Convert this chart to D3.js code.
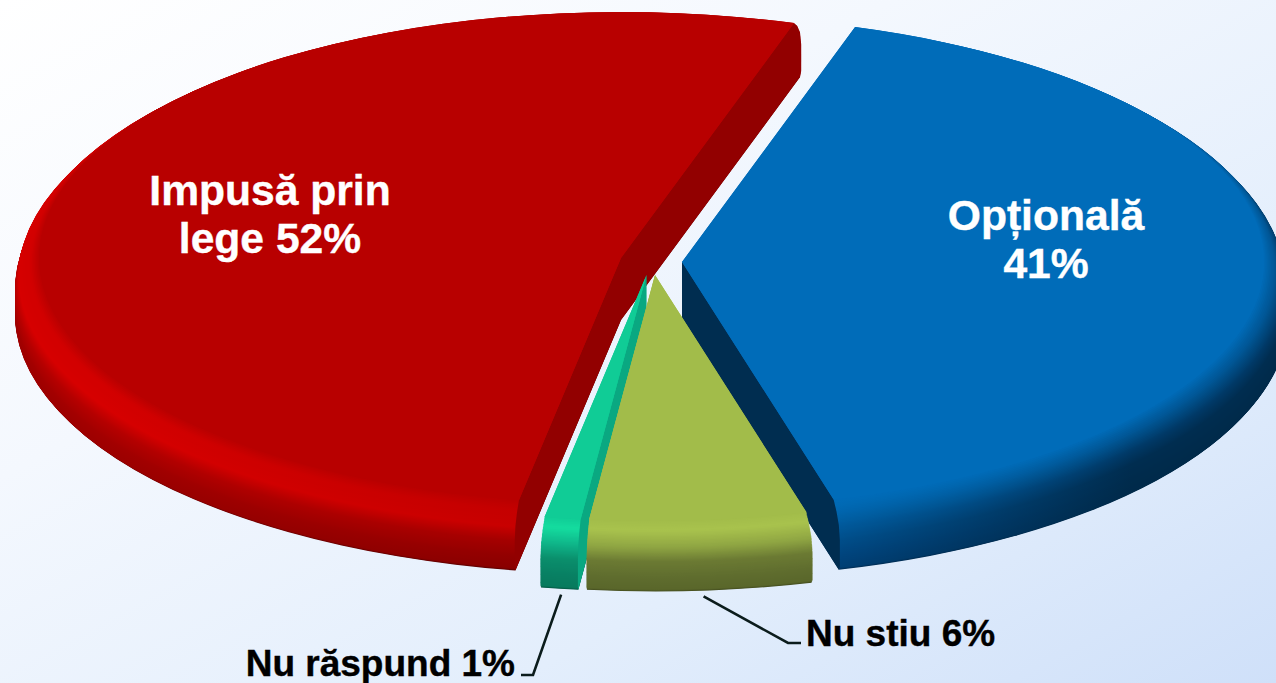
<!DOCTYPE html>
<html>
<head>
<meta charset="utf-8">
<script src="https://cdn.jsdelivr.net/npm/d3@7"></script>
<style>
html,body{margin:0;padding:0;overflow:hidden;background:#fff}
svg{display:block}
text{font-family:"Liberation Sans",Arial,sans-serif;font-weight:700}
</style>
</head>
<body>
<svg id="c" width="1276" height="683"></svg>
<script>
// ---- data ----
const categories = ["Opțională", "Nu stiu", "Nu răspund", "Impusă prin lege"];
const values = [41, 6, 1, 52];

// ---- layout and style ----
const W = 1276, H = 683;
const startDeg = 17.3;
const faceR = 582, maxR = 606, tilt = 0.4227, depth = 62, layers = 64;
const apexX = [682, 655, 646.5, 621];
const apexY = [262, 275, 275, 258];
const faceColor = ["#006cb9", "#a2bc4a", "#10cc96", "#b80000"];
const wallColor = ["#002d50", "#5a672b", "#0aa881", "#920000"];
const visibleWalls = [["endAngle"], [], ["startAngle"], ["startAngle", "endAngle"]];
const drawOrder = [3, 0, 2, 1];
const stopPos = [0, .1, .3, .5, .75, .96, 1];
const rimNear = [ // colours of the rim towards rimX[i][0]
  ["#006cb9", "#0068b2", "#005a9c", "#004f8c", "#00457f", "#003f74", "#002f58"],
  ["#a2bc4a", "#a8c24d", "#8ea442", "#6b7a33", "#5f6d2e", "#59662a", "#454f20"],
  ["#10cc96", "#14dc9f", "#0eb287", "#0a8f6c", "#088063", "#077a5d", "#045a45"],
  ["#b80000", "#d20000", "#d60000", "#b40000", "#a20000", "#9c0000", "#7a0000"]
];
const rimFar = [
  ["#006cb9", "#005a9c", "#003a68", "#002d50", "#002b4c", "#002a4a", "#002a4a"],
  rimNear[1],
  rimNear[2],
  ["#b80000", "#c40000", "#c80000", "#a40000", "#920000", "#880000", "#5c0000"]
];
const rimX = [[150, 450], [0, 100], [0, 100], [-520, -100]];

const labelFont = [42.6, 37, 37, 42.6];
const labelLines = [["Opțională", "41%"], ["Nu stiu 6%"], ["Nu răspund 1%"], ["Impusă prin", "lege 52%"]];
const labelX = [1046, 806, 515, 270];
const labelY = [230, 646, 676, 205];
const labelAnchor = ["middle", "start", "end", "middle"];
const labelFill = ["#fff", "#000", "#000", "#fff"];
const lineGap = 48;

const svg = d3.select("#c").attr("viewBox", `0 0 ${W} ${H}`);
const defs = svg.append("defs");

// background
const bg = defs.append("linearGradient").attr("id", "bg")
  .attr("x1", 0).attr("y1", 0).attr("x2", 1).attr("y2", 1);
[[0, "#ffffff"], [.35, "#f4f8fe"], [.7, "#e3eefc"], [1, "#cfe0f9"]].forEach(s =>
  bg.append("stop").attr("offset", s[0]).attr("stop-color", s[1]));
svg.append("rect").attr("width", W).attr("height", H).attr("fill", "url(#bg)");

// pie layout
const rad = d => d * Math.PI / 180;
const pie = d3.pie().sort(null).startAngle(rad(startDeg)).endAngle(rad(startDeg + 360));
const arcs = pie(values);
const arc = d3.arc().innerRadius(0);

// rim profile: u is 0 at the face, 1 at the bottom edge
const radiusAt = d3.scaleLinear().domain([0, .12, .28, .5, .93, 1]).range([faceR, faceR + 11, faceR + 20, maxR, maxR, maxR - 4]);
const colourScale = set => d3.scaleLinear().domain(stopPos).range(set).interpolate(d3.interpolateRgb);
const us = d3.range(layers + 1).map(i => i / layers);

const polar = (i, angle, r, dy) => [
  apexX[i] + r * Math.sin(angle),
  apexY[i] + dy - tilt * r * Math.cos(angle)
];

const lineGen = d3.line();

drawOrder.forEach(i => {
  const a = arcs[i];
  const g = svg.append("g").attr("class", "slice").attr("data-name", categories[i]);
  const near = colourScale(rimNear[i]), far = colourScale(rimFar[i]);

  // rim: stacked sectors from the bottom edge up to the face
  us.slice().reverse().forEach((u, j) => {
    const id = `rim${i}_${j}`;
    const lg = defs.append("linearGradient").attr("id", id)
      .attr("gradientUnits", "userSpaceOnUse")
      .attr("x1", rimX[i][0]).attr("x2", rimX[i][1]).attr("y1", 0).attr("y2", 0);
    lg.append("stop").attr("offset", 0).attr("stop-color", near(u));
    lg.append("stop").attr("offset", 1).attr("stop-color", far(u));
    g.append("path")
      .attr("transform", `translate(${apexX[i]},${apexY[i] + u * depth}) scale(1,${tilt})`)
      .attr("d", arc({startAngle: a.startAngle, endAngle: a.endAngle, outerRadius: radiusAt(u)}))
      .attr("fill", `url(#${id})`);
  });

  // flat cut walls
  visibleWalls[i].forEach(side => {
    const ang = a[side];
    const pts = [[apexX[i], apexY[i]]]
      .concat(us.map(u => polar(i, ang, radiusAt(u), u * depth)))
      .concat([[apexX[i], apexY[i] + depth]]);
    g.append("path").attr("d", lineGen(pts) + "Z").attr("fill", wallColor[i]);
  });

  // top face
  g.append("path")
    .attr("transform", `translate(${apexX[i]},${apexY[i]}) scale(1,${tilt})`)
    .attr("d", arc({startAngle: a.startAngle, endAngle: a.endAngle, outerRadius: faceR}))
    .attr("fill", faceColor[i]);
});

// leader lines: slice edge -> elbow -> label
const leaders = [
  {i: 1, angleShift: rad(-0.3), gap: 4, elbow: [788, 643], end: [801, 643]},
  {i: 2, angleShift: rad(-0.2), gap: 4, elbow: [533, 675], end: [521, 675]}
];
leaders.forEach(l => {
  const a = arcs[l.i], mid = (a.startAngle + a.endAngle) / 2 + l.angleShift;
  const p = polar(l.i, mid, maxR, depth + l.gap);
  svg.append("path").attr("d", lineGen([p, l.elbow, l.end]))
    .attr("fill", "none").attr("stroke", "#0b1c1c").attr("stroke-width", 2.6);
});

// labels
categories.forEach((c, i) => {
  const t = svg.append("text").attr("text-anchor", labelAnchor[i])
    .attr("font-size", labelFont[i]).attr("fill", labelFill[i])
    .attr("stroke", labelFill[i]).attr("stroke-width", 0.4);
  labelLines[i].forEach((s, k) =>
    t.append("tspan").attr("x", labelX[i]).attr("y", labelY[i] + k * lineGap).text(s));
});
</script>
</body>
</html>
